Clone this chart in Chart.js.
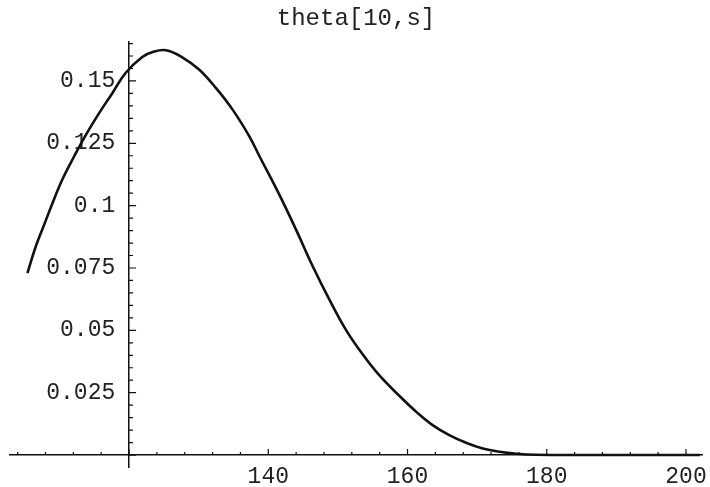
<!DOCTYPE html>
<html>
<head>
<meta charset="utf-8">
<script src="https://cdn.jsdelivr.net/npm/chart.js@4"></script>
<style>
  body { margin: 0; background: #fff; }
  #wrap { width: 710px; height: 487px; }
</style>
</head>
<body>
<div id="wrap"><canvas id="myChart"></canvas></div>
<script>
// valores
const sValues = [105.4, 106.6, 107.8, 109.0, 110.4, 112.1, 113.8, 115.7, 117.6, 119.5,
  121.9, 123.4, 125.3, 127.7, 130.1, 132.5, 134.9, 137.3, 138.7, 141.6,
  144.0, 146.4, 148.8, 151.2, 153.6, 156.0, 158.8, 161.3, 163.6, 166.0,
  168.5, 170.8, 173.2, 175.7, 178.5, 185.0, 202.0]
const thetaValues = [0.0729, 0.0836, 0.0923, 0.1010, 0.1104, 0.1197, 0.1284, 0.1371, 0.1451, 0.1532,
  0.1596, 0.1616, 0.1623, 0.1594, 0.1545, 0.1471, 0.1384, 0.1277, 0.1200, 0.1043,
  0.0903, 0.0756, 0.0622, 0.0500, 0.0402, 0.0318, 0.0238, 0.0172, 0.0120, 0.0080,
  0.0048, 0.0026, 0.0013, 0.0005, 0.0001, 0.0, 0.0]

const xTicks = [140, 160, 180, 200]
const yTicks = [0.025, 0.05, 0.075, 0.1, 0.125, 0.15]
const yTickLabels = ['0.025', '0.05', '0.075', '0.1', '0.125', '0.15']
const xMinorStep = 4
const yMinorStep = 0.005

const points = sValues.map((s, i) => ({x: s, y: thetaValues[i]}))
const monoFont = "'Liberation Mono', 'DejaVu Sans Mono', monospace"

// marcas dos eixos no estilo Mathematica (para dentro)
const tickMarks = {
  id: 'tickMarks',
  afterDraw(chart) {
    const ctx = chart.ctx
    const xs = chart.scales.x
    const ys = chart.scales.y
    const x0 = xs.getPixelForValue(120)
    const y0 = ys.getPixelForValue(0)
    ctx.save()
    ctx.strokeStyle = '#111'
    ctx.lineWidth = 1.2
    ctx.beginPath()
    for (let v = Math.ceil(xs.min / xMinorStep) * xMinorStep; v <= xs.max; v += xMinorStep) {
      const px = xs.getPixelForValue(v)
      const len = v % 20 === 0 ? 6 : 3
      ctx.moveTo(px, y0)
      ctx.lineTo(px, y0 - len)
    }
    for (let k = Math.ceil(ys.min / yMinorStep); k * yMinorStep <= ys.max; k++) {
      const py = ys.getPixelForValue(k * yMinorStep)
      const len = k % 5 === 0 ? 7 : 4
      ctx.moveTo(x0, py)
      ctx.lineTo(x0 + len, py)
    }
    ctx.stroke()
    ctx.restore()
  }
}

const graphArea = document.getElementById('myChart').getContext('2d')
const myChart = new Chart(graphArea, {
  type: 'scatter',
  data: {
    datasets: [{
      data: points,
      showLine: true,
      borderColor: '#111',
      borderWidth: 2.6,
      pointRadius: 0,
      tension: 0.4,
      fill: false
    }]
  },
  options: {
    animation: false,
    responsive: true,
    maintainAspectRatio: false,
    layout: { padding: { left: 10, right: 8, top: 0, bottom: 20 } },
    plugins: {
      legend: { display: false },
      tooltip: { enabled: false },
      title: {
        display: true,
        text: 'theta[10,s]',
        color: '#222',
        font: { family: monoFont, size: 24, weight: 'normal' },
        padding: { top: 4, bottom: 9 }
      }
    },
    scales: {
      x: {
        type: 'linear',
        min: 102.9,
        max: 202.3,
        position: { y: 0 },
        grid: { display: false },
        border: { display: true, color: '#111', width: 1.5 },
        afterBuildTicks: (scale) => { scale.ticks = xTicks.map(v => ({value: v})) },
        ticks: {
          color: '#222',
          padding: 0,
          font: { family: monoFont, size: 23 },
          callback: (v) => String(v)
        }
      },
      y: {
        type: 'linear',
        min: -0.0048,
        max: 0.1657,
        position: { x: 120 },
        grid: { display: false },
        border: { display: true, color: '#111', width: 1.5 },
        afterBuildTicks: (scale) => { scale.ticks = yTicks.map(v => ({value: v})) },
        ticks: {
          color: '#222',
          padding: 0,
          font: { family: monoFont, size: 23 },
          callback: (v) => yTickLabels[yTicks.indexOf(v)] + ' '
        }
      }
    }
  },
  plugins: [tickMarks]
})
</script>
</body>
</html>
